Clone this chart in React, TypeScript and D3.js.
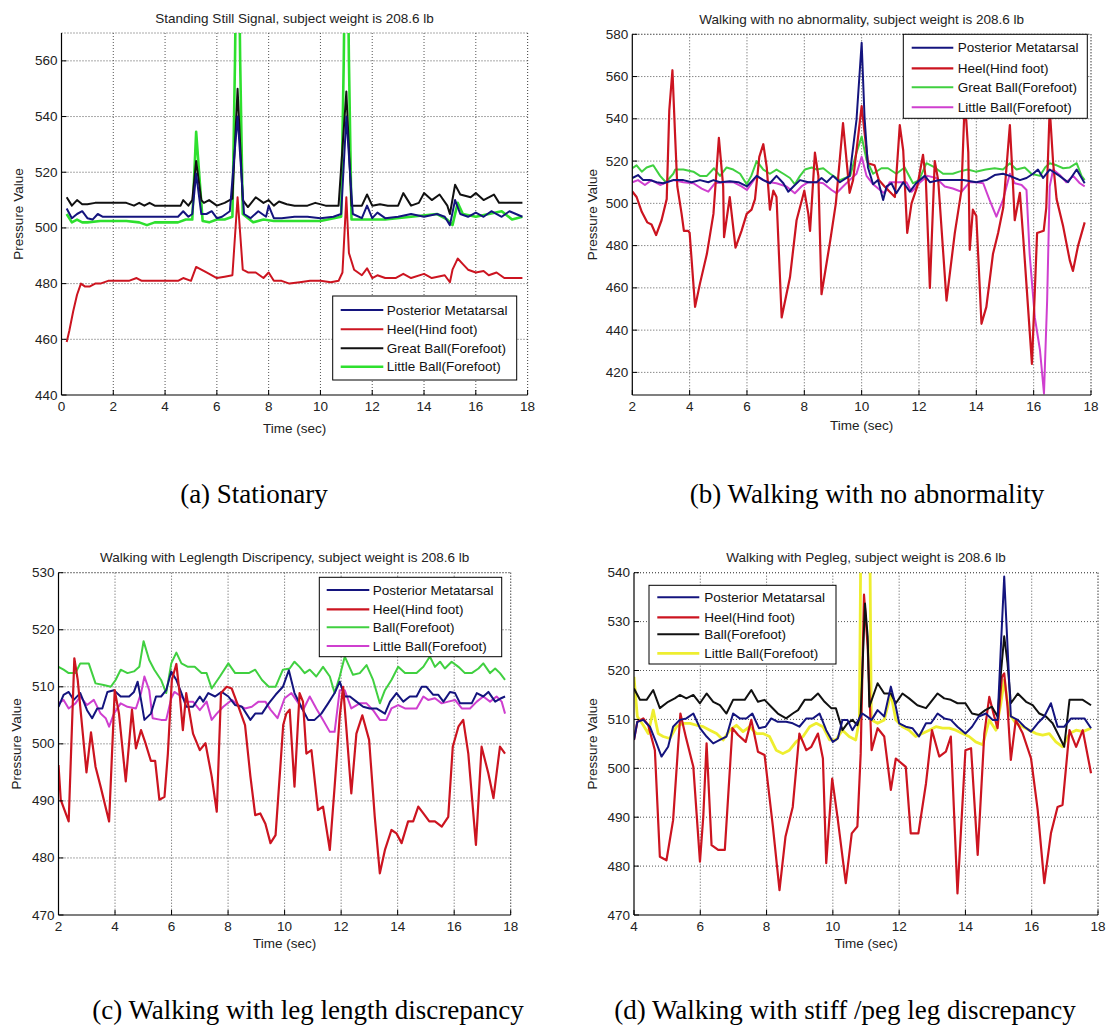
import React from 'react';
import * as d3 from 'd3';

type Pt = [number, number];

// ---------- tick labels ----------
const A_X_TICKS = [0, 2, 4, 6, 8, 10, 12, 14, 16, 18];
const A_Y_TICKS = [440, 460, 480, 500, 520, 540, 560];
const B_X_TICKS = [2, 4, 6, 8, 10, 12, 14, 16, 18];
const B_Y_TICKS = [420, 440, 460, 480, 500, 520, 540, 560, 580];
const C_X_TICKS = [2, 4, 6, 8, 10, 12, 14, 16, 18];
const C_Y_TICKS = [470, 480, 490, 500, 510, 520, 530];
const D_X_TICKS = [4, 6, 8, 10, 12, 14, 16, 18];
const D_Y_TICKS = [470, 480, 490, 500, 510, 520, 530, 540];

// ---------- (a) Standing still ----------
const A_POSTERIOR: Pt[] = [[0.2,507],[0.4,503.5],[0.6,505],[0.8,506],[1.0,503.5],[1.2,503],[1.4,505],[1.6,504],[2.0,504],[3.0,504],[4.0,504],[4.5,504],[4.7,506],[4.9,504],[5.05,505],[5.2,519.5],[5.4,505],[5.6,505],[5.8,506],[6.0,503.5],[6.2,504],[6.5,506],[6.8,540],[7.05,505],[7.3,503.5],[7.6,506],[7.9,504],[8.0,508],[8.2,503.5],[8.5,503.5],[9.0,504],[9.5,504],[10.0,503.5],[10.5,504],[10.8,505],[11.0,540],[11.25,505],[11.6,503.5],[11.8,508],[12.0,503.5],[12.2,505.5],[12.5,503.5],[13.0,504],[13.5,505],[14.0,504],[14.5,505],[14.8,504],[15.0,501],[15.2,510],[15.4,505],[15.7,504],[16.0,505.5],[16.3,504],[16.6,506],[17.0,504],[17.3,506],[17.8,504]];
const A_HEEL: Pt[] = [[0.2,459],[0.3,463],[0.45,470],[0.6,476],[0.75,480],[0.9,479],[1.1,479],[1.3,480],[1.5,480],[1.8,481],[2.2,481],[2.6,481],[2.9,482],[3.1,481],[3.6,481],[4.0,481],[4.5,481],[4.7,482],[5.0,481],[5.2,486],[5.6,484],[6.0,482],[6.3,482.5],[6.6,483],[6.8,511],[7.0,485],[7.2,484],[7.5,484],[7.8,482],[8.0,484],[8.2,481],[8.5,481],[8.8,480],[9.2,480.5],[9.6,481],[10.0,481],[10.4,480.5],[10.7,481],[10.85,484],[11.0,511],[11.1,491],[11.3,485],[11.6,483],[11.8,485.5],[12.0,482],[12.2,483],[12.5,482],[12.9,482],[13.2,483.5],[13.5,482],[14.0,483.5],[14.3,482],[14.8,483],[15.0,480.5],[15.1,485],[15.3,489],[15.5,487],[15.7,485],[16.0,484],[16.3,484.5],[16.5,483],[16.8,484],[17.1,482],[17.4,482],[17.8,482]];
const A_GREAT_BALL: Pt[] = [[0.2,511],[0.4,508],[0.6,510],[0.8,508.5],[1.0,508.5],[1.3,509],[1.6,509],[2.0,509],[2.5,509],[2.8,508],[3.0,509],[3.2,508],[3.4,509],[3.6,508],[4.0,508],[4.6,508],[4.7,510],[4.9,508],[5.05,510],[5.2,524],[5.4,510],[5.5,509],[5.7,510],[6.0,508],[6.3,509],[6.6,510.5],[6.8,550],[7.0,510],[7.2,507.5],[7.5,511],[7.8,509],[8.0,510],[8.2,508],[8.4,509.5],[8.7,508.5],[9.0,508],[9.5,508],[9.8,509],[10.2,508],[10.7,508],[11.0,549],[11.2,508],[11.6,508],[11.8,512],[12.0,508],[12.3,508.5],[12.6,508],[13.0,508],[13.2,512.5],[13.5,508],[13.8,509],[14.0,512.5],[14.3,510],[14.6,512],[14.9,508],[15.0,505],[15.2,515.5],[15.4,512],[15.8,511],[16.0,512.5],[16.3,510],[16.7,512],[16.9,509],[17.2,509],[17.8,509]];
const A_LITTLE_BALL: Pt[] = [[0.2,505],[0.4,502],[0.6,503],[0.8,502],[1.0,502],[1.5,502.5],[2.0,502.5],[2.5,502.5],[3.0,502],[3.3,501],[3.6,502],[4.0,502],[4.5,502],[4.8,503],[5.05,503],[5.2,534.5],[5.45,502.5],[5.7,502],[6.0,503],[6.3,503],[6.6,504],[6.7,560],[6.8,640],[6.9,560],[7.0,505],[7.4,502],[7.8,503],[8.2,502.5],[9.0,502.5],[10.0,502.5],[10.8,504],[10.9,560],[11.0,640],[11.1,560],[11.2,503],[11.8,503],[12.5,503],[13.5,504],[14.5,505],[14.9,503],[15.1,501],[15.3,509],[15.5,505],[16.0,504],[16.5,505],[17.0,506],[17.4,503],[17.8,504]];

// ---------- (b) Walking, no abnormality ----------
const B_POSTERIOR: Pt[] = [[2.0,512],[2.2,513.4],[2.38,511],[2.62,511],[2.85,510],[3.08,509.5],[3.43,511],[3.78,511],[4.07,510],[4.36,511],[4.65,510],[4.83,511],[5.06,510],[5.4,510.5],[5.7,510],[6.0,508],[6.34,513],[6.57,511],[6.8,509.5],[7.03,513],[7.27,509.5],[7.44,505.5],[7.62,508],[7.85,511],[8.14,510],[8.43,510],[8.6,512],[8.78,510],[9.0,513],[9.24,510],[9.58,513],[9.82,539.5],[10.0,576],[10.1,541],[10.22,517],[10.4,509],[10.57,511],[10.75,501.6],[10.87,508],[11.04,509.5],[11.21,504.8],[11.45,510],[11.68,505.5],[11.9,509.5],[12.2,513],[12.38,510],[12.73,511],[13.08,511],[13.54,511],[14.0,510],[14.35,511],[14.64,513.4],[14.93,514],[15.17,513],[15.52,511],[15.75,512],[15.98,514],[16.15,516],[16.33,512],[16.56,516],[16.9,513],[17.2,510],[17.5,516],[17.78,509.5]];
const B_HEEL: Pt[] = [[2.0,505.6],[2.15,503],[2.33,496],[2.52,491],[2.67,490],[2.83,485],[3.02,492],[3.2,502],[3.29,544],[3.4,563],[3.49,533],[3.57,508],[3.72,495],[3.8,487],[3.95,487],[4.0,486],[4.19,451],[4.36,462],[4.6,476],[4.83,495],[5.02,531],[5.17,508],[5.2,484],[5.4,503],[5.6,479],[5.81,487],[5.99,495],[6.16,497],[6.28,502],[6.43,522],[6.57,528],[6.69,517],[6.8,497],[6.92,506],[7.03,503],[7.21,446],[7.5,465],[7.73,492],[8.0,506],[8.14,495],[8.2,487],[8.37,524],[8.49,513],[8.6,457],[8.9,482],[9.1,500],[9.35,538],[9.58,505],[9.7,511],[10.0,546],[10.22,519],[10.45,518],[10.6,511],[10.8,508],[11.16,503],[11.33,537],[11.45,525],[11.59,486],[11.74,500],[11.94,508],[12.14,523],[12.24,511],[12.38,460],[12.55,520],[12.67,511],[12.96,454],[13.25,486],[13.48,506],[13.6,550],[13.72,524],[13.77,478],[13.88,497],[14.0,494],[14.18,443],[14.35,451],[14.58,476],[14.76,486],[14.94,498],[15.17,537],[15.26,514],[15.34,492],[15.52,505],[15.64,483],[15.94,424],[16.12,486],[16.35,487],[16.44,498],[16.56,545],[16.68,519],[16.8,502],[17.03,489],[17.26,473],[17.37,468],[17.55,480],[17.78,491]];
const B_GREAT_BALL: Pt[] = [[2.0,516.6],[2.15,518],[2.33,515],[2.5,517],[2.73,518],[2.97,513],[3.17,510],[3.43,514],[3.5,516],[3.78,516],[4.13,515],[4.36,513],[4.6,513],[4.85,516.6],[5.06,513],[5.29,517],[5.52,516],[5.76,514],[5.99,509],[6.15,513],[6.34,520],[6.57,516],[6.8,514],[7.03,516],[7.27,514],[7.5,512],[7.67,509],[7.85,513],[8.02,516],[8.26,517],[8.43,516],[8.66,516.6],[8.9,514],[9.13,512],[9.24,511],[9.6,513],[9.82,524],[10.0,531.6],[10.17,520.5],[10.4,514],[10.69,516.6],[10.92,516.6],[11.21,514],[11.5,517],[11.79,509.5],[12.0,511],[12.26,519],[12.55,517],[12.84,514],[13.18,514],[13.4,515],[13.7,516],[13.98,515],[14.33,516],[14.64,516.6],[14.93,516],[15.17,519],[15.4,516],[15.69,517],[15.92,514],[16.22,513],[16.4,517],[16.56,519],[16.8,518],[17.03,516.6],[17.26,517],[17.5,519],[17.67,513],[17.78,511]];
const B_LITTLE_BALL: Pt[] = [[2.0,510],[2.2,511],[2.44,508.7],[2.67,511],[2.97,508.7],[3.2,510],[3.43,511],[3.78,510],[4.13,509.5],[4.42,507],[4.65,505.5],[4.88,509.5],[5.17,510],[5.52,510],[5.81,508],[6.0,506.3],[6.34,513],[6.57,511],[6.8,510],[7.03,509.5],[7.38,508],[7.67,504.8],[7.9,508],[8.14,510],[8.43,510],[8.66,509.5],[8.95,506.3],[9.12,504.8],[9.35,508],[9.58,511],[9.82,514],[10.0,522],[10.17,513],[10.4,509],[10.64,506.3],[10.8,504.8],[10.98,510],[11.27,510],[11.56,510],[11.74,505.5],[11.85,507],[12.0,509.5],[12.3,513],[12.6,512],[12.9,508],[13.18,507],[13.48,505.5],[13.77,510],[14.0,510],[14.24,509.5],[14.46,501.6],[14.7,493.7],[14.93,501.6],[15.17,514],[15.34,509.5],[15.58,508.7],[15.75,506.3],[15.86,476],[16.04,446],[16.22,430.6],[16.36,410],[16.47,454],[16.56,508],[16.68,516],[16.91,513.4],[17.14,510],[17.38,513],[17.61,509.5],[17.78,508]];

// ---------- (c) Leg length discrepancy ----------
const C_POSTERIOR: Pt[] = [[2.0,506.5],[2.18,508.6],[2.36,509.1],[2.54,507.7],[2.77,508.9],[3.01,505.9],[3.19,504.5],[3.37,506.2],[3.55,506.2],[3.73,509.1],[3.96,509.4],[4.2,508.3],[4.5,508.3],[4.67,509.1],[4.8,510.9],[4.92,507.7],[5.04,504.2],[5.27,505.3],[5.45,508.3],[5.63,508.3],[5.81,509.4],[5.99,512.7],[6.17,511.2],[6.35,508.9],[6.52,506.5],[6.76,506.5],[7.0,508.3],[7.12,507.4],[7.3,508.9],[7.54,508.3],[7.77,509.1],[8.01,508.3],[8.25,506.8],[8.49,506.5],[8.79,504.2],[8.96,505.3],[9.2,505.3],[9.44,507.1],[9.68,508.6],[9.94,510],[10.15,512.9],[10.35,508.9],[10.59,506.5],[10.83,504.2],[11.06,504.2],[11.3,505.3],[11.54,507.1],[11.77,508.9],[11.95,510.9],[12.13,508.3],[12.31,508.3],[12.54,507.4],[12.78,506.5],[13.01,506.2],[13.25,506.2],[13.55,505.3],[13.73,507.4],[13.96,508.9],[14.2,507.4],[14.43,508.3],[14.67,508.3],[14.85,510],[15.02,510],[15.26,508.6],[15.44,508.6],[15.62,507.4],[15.85,509.1],[16.03,508.9],[16.21,507.1],[16.45,507.1],[16.62,507.1],[16.8,508.9],[17.03,508.3],[17.21,509.1],[17.45,507.4],[17.62,507.9],[17.8,508.3]];
const C_HEEL: Pt[] = [[2.0,496.3],[2.08,490.2],[2.36,486.4],[2.56,515],[2.68,511.2],[2.99,495],[3.15,502],[3.31,496],[3.49,492.5],[3.79,486.4],[3.99,509.4],[4.14,505.3],[4.38,493.4],[4.6,506],[4.74,499.2],[4.92,502.4],[5.06,500.4],[5.27,497],[5.42,497],[5.57,490.2],[5.75,490.7],[5.87,498.3],[6.01,511.2],[6.17,514],[6.29,508.6],[6.4,502.4],[6.52,508.9],[6.76,501.8],[7.0,498.9],[7.2,500.1],[7.42,494.3],[7.6,488.1],[7.75,508.9],[7.95,510],[8.13,509.7],[8.37,506.5],[8.6,503.3],[8.79,494.3],[8.96,487.5],[9.14,487.8],[9.32,486],[9.5,482.6],[9.68,484],[9.85,496],[9.95,503.3],[10.06,505.3],[10.18,506],[10.35,492.5],[10.53,508.9],[10.65,507.4],[10.77,498.3],[10.95,498.9],[11.18,488.4],[11.36,489],[11.6,481.4],[11.77,492.5],[11.95,504.8],[12.07,510],[12.19,502.4],[12.36,491.3],[12.54,501.8],[12.75,505],[12.99,500.7],[13.19,487.2],[13.37,477.3],[13.55,481.4],[13.78,484.9],[13.96,484.3],[14.14,482.6],[14.37,486.4],[14.55,486.4],[14.73,489],[14.91,487.8],[15.12,486.4],[15.32,486.4],[15.56,485.5],[15.79,487.2],[15.95,499.5],[16.15,503],[16.32,504.2],[16.5,498.3],[16.77,482.3],[16.97,499.5],[17.21,494.8],[17.39,490.5],[17.62,499.5],[17.8,498.3]];
const C_BALL: Pt[] = [[2.0,513.5],[2.18,513],[2.36,512.4],[2.6,512.4],[2.77,514.1],[3.07,514.1],[3.31,510.6],[3.6,510.3],[3.85,510],[4.02,511.2],[4.2,513],[4.44,512.4],[4.67,512.7],[4.86,513.5],[5.01,518],[5.21,514.7],[5.39,513],[5.63,511.2],[5.81,508.9],[5.99,514.1],[6.17,516],[6.35,514.1],[6.58,513.5],[6.82,513.5],[7.06,512.4],[7.24,512.4],[7.42,509.7],[7.71,511.8],[8.01,514.1],[8.25,512.4],[8.49,512.4],[8.73,512.4],[8.96,513],[9.2,511.2],[9.44,510],[9.68,510],[9.94,513],[10.18,513.2],[10.35,514.4],[10.53,513.5],[10.71,512.4],[10.89,513],[11.12,511.8],[11.36,513.5],[11.6,511.8],[11.77,508.9],[11.95,511.8],[12.13,515.3],[12.42,512.1],[12.66,512.4],[12.9,513.8],[13.13,511.2],[13.37,507.1],[13.55,509.4],[13.78,511.2],[14.02,513.5],[14.26,512.4],[14.67,512.4],[14.91,513.5],[15.14,515.3],[15.32,513.5],[15.5,514.4],[15.67,513.2],[15.91,514.4],[16.15,513.5],[16.38,512.4],[16.62,512.4],[16.86,513.2],[17.03,514.1],[17.27,512.4],[17.45,513.2],[17.62,512.4],[17.8,511.2]];
const C_LITTLE_BALL: Pt[] = [[2.0,507.1],[2.18,507.7],[2.36,506.2],[2.6,507.1],[2.77,508.3],[3.01,506.8],[3.25,507.7],[3.49,505.3],[3.67,504.5],[3.79,503],[3.96,505.3],[4.2,507.1],[4.44,506.5],[4.74,506.2],[4.92,508.9],[5.04,511.8],[5.21,509.4],[5.33,504.5],[5.63,504.2],[5.81,504.2],[5.99,508],[6.1,509.1],[6.35,508.3],[6.52,507.4],[6.76,507.4],[7.0,505.9],[7.24,507.4],[7.42,504.2],[7.6,505.3],[7.83,506.5],[8.13,507.7],[8.37,506.8],[8.6,506.2],[8.84,506.5],[9.08,507.4],[9.32,507.4],[9.5,506],[9.75,504.5],[10.0,508],[10.24,508.9],[10.41,507.7],[10.65,505.9],[10.89,508.3],[11.12,506.2],[11.36,504.2],[11.6,502.1],[11.77,502.1],[11.95,509.4],[12.13,509.4],[12.36,506.2],[12.66,507.1],[12.9,507.1],[13.13,505.9],[13.37,504.2],[13.6,504.2],[13.78,506.2],[14.02,506.8],[14.26,506.2],[14.67,506.2],[14.91,508.3],[15.08,507.7],[15.32,508],[15.56,507.1],[15.79,507.4],[16.03,507.7],[16.27,506.2],[16.56,506.2],[16.8,507.4],[17.03,508.3],[17.27,507.4],[17.5,508.3],[17.68,507.4],[17.8,505.3]];

// ---------- (d) Peg leg ----------
const D_POSTERIOR: Pt[] = [[4.0,505.8],[4.1,509.5],[4.28,509.9],[4.48,508.5],[4.68,505.1],[4.83,502.4],[5.03,504.4],[5.18,508.5],[5.38,509.9],[5.58,510.2],[5.79,511.2],[5.99,508.2],[6.19,506.5],[6.39,505.1],[6.59,505.8],[6.79,506.5],[6.99,511.2],[7.19,510.2],[7.39,510.2],[7.57,511.2],[7.77,508.2],[7.97,508.5],[8.14,510.2],[8.34,509.5],[8.59,509.5],[8.79,509.2],[8.99,508.5],[9.2,510.2],[9.4,510.2],[9.6,511.2],[9.8,507.8],[10.0,505.4],[10.15,506.1],[10.29,509.9],[10.44,509.9],[10.59,507.8],[10.74,509.5],[10.89,511.2],[11.17,509.9],[11.35,511.9],[11.55,510.6],[11.75,516.7],[11.9,512.6],[12.0,509.2],[12.2,508.5],[12.4,508.2],[12.6,506.5],[12.81,509.2],[12.96,509.2],[13.16,511.2],[13.36,510.2],[13.56,509.9],[13.76,508.5],[14.0,507.1],[14.2,508.5],[14.4,510.6],[14.62,511.2],[14.82,509.9],[14.97,509.9],[15.07,524.9],[15.17,539.2],[15.27,524.9],[15.37,510.6],[15.58,509.9],[15.78,508.5],[15.98,507.5],[16.18,509.2],[16.38,510.6],[16.58,513.3],[16.78,508.5],[16.98,508.5],[17.19,510.2],[17.39,510.2],[17.59,510.2],[17.79,508.2]];
const D_HEEL: Pt[] = [[4.0,505.8],[4.1,509.5],[4.28,510.2],[4.43,508.8],[4.63,503.7],[4.78,481.9],[4.98,481.2],[5.18,489.4],[5.33,504.4],[5.4,511.2],[5.56,506.5],[5.79,500.3],[5.99,480.9],[6.09,490.1],[6.19,505.1],[6.34,484.3],[6.54,483.3],[6.74,483.3],[6.97,508.2],[7.14,506.8],[7.37,505.4],[7.54,509.9],[7.74,503.4],[7.94,502.7],[8.19,488.1],[8.39,475.1],[8.57,486],[8.79,492.1],[8.99,507.1],[9.2,503.7],[9.35,504.4],[9.55,507.1],[9.7,502],[9.8,480.6],[9.98,497.9],[10.14,490],[10.39,476.5],[10.57,486.7],[10.74,488.1],[10.84,503],[10.94,535.5],[11.05,525],[11.17,503.7],[11.35,508.2],[11.55,506.5],[11.75,495.6],[11.9,502],[12.2,500.3],[12.35,486.7],[12.58,486.7],[12.81,496.9],[12.99,507.8],[13.21,502.4],[13.41,503.4],[13.56,506.5],[13.76,474.4],[14.0,503.7],[14.17,504.1],[14.37,482.3],[14.57,507.1],[14.72,514.6],[14.87,510.6],[14.97,508.2],[15.1,518.7],[15.17,519.4],[15.27,512.6],[15.37,501.7],[15.52,509.9],[15.73,507.1],[15.98,502],[16.18,491.5],[16.38,476.5],[16.58,486.7],[16.78,492.1],[16.93,492.5],[17.14,507.8],[17.34,504.4],[17.54,507.8],[17.79,499]];
const D_BALL: Pt[] = [[4.0,516.3],[4.18,514],[4.38,514],[4.58,516],[4.78,512.3],[5.03,513.6],[5.23,514.3],[5.38,515],[5.58,514.3],[5.79,515],[5.99,513.3],[6.19,515.3],[6.39,513.6],[6.59,512.9],[6.79,511.2],[6.99,514],[7.19,514],[7.34,514],[7.54,516],[7.74,513.6],[7.94,514],[8.14,512.6],[8.34,511.2],[8.59,510.2],[8.79,511.2],[8.95,511.9],[9.15,514],[9.35,514],[9.55,515.3],[9.75,513.6],[9.95,512.3],[10.09,512.3],[10.29,507.8],[10.44,509.2],[10.59,509.9],[10.74,508.8],[10.84,511.2],[10.97,533.7],[11.05,527],[11.1,512.6],[11.35,517.4],[11.55,515.3],[11.75,515.3],[11.9,513.3],[12.1,515.3],[12.3,514.3],[12.55,512.9],[12.81,512.3],[12.96,513.6],[13.16,515.3],[13.36,514.3],[13.56,514],[13.76,513.3],[14.0,513.3],[14.2,511.2],[14.4,510.9],[14.6,511.9],[14.8,512.6],[14.97,510.6],[15.07,519.4],[15.17,527],[15.27,521.5],[15.37,513.3],[15.58,515.3],[15.83,513.6],[16.03,512.9],[16.23,511.2],[16.43,510.6],[16.63,509.2],[16.83,506.5],[16.98,504.4],[17.14,514],[17.34,514],[17.54,514],[17.79,512.9]];
const D_LITTLE_BALL: Pt[] = [[4.0,518.7],[4.1,510.6],[4.28,508.8],[4.43,507.1],[4.58,511.9],[4.73,507.1],[4.88,506.5],[5.08,506.1],[5.28,508.5],[5.48,509.2],[5.69,509.2],[5.89,508.8],[6.09,508.5],[6.29,507.8],[6.49,507.1],[6.69,505.8],[6.89,507.8],[7.09,508.8],[7.29,507.5],[7.49,508.5],[7.69,507.1],[7.89,507.1],[8.09,506.5],[8.29,503.7],[8.49,503],[8.69,503.7],[8.89,505.4],[9.1,506.5],[9.3,508.5],[9.5,509.2],[9.7,508.5],[9.9,505.8],[10.09,505.8],[10.29,507.8],[10.49,506.5],[10.69,505.8],[10.8,509.9],[10.86,560],[10.92,600],[11.04,600],[11.1,560],[11.16,509.9],[11.35,509.2],[11.55,509.9],[11.75,515.3],[11.9,509.9],[12.1,508.5],[12.3,507.8],[12.5,506.5],[12.7,507.1],[12.91,507.8],[13.11,508.5],[13.31,508.2],[13.51,508.2],[13.71,507.8],[13.91,507.1],[14.11,506.5],[14.31,505.4],[14.52,504.8],[14.72,509.9],[14.92,507.8],[15.07,513.3],[15.17,518],[15.32,511.2],[15.52,509.2],[15.73,508.5],[15.93,507.8],[16.13,507.1],[16.33,506.8],[16.53,507.1],[16.73,505.4],[16.93,504.4],[17.14,507.1],[17.34,507.8],[17.54,507.5],[17.79,508.2]];

// ---------- colours ----------
const NAVY = '#14147e';
const RED = '#cc1420';
const BLACK = '#111111';
const LIME = '#2ee02e';
const GREEN = '#40d040';
const MAGENTA = '#cf3fcf';
const YELLOW = '#eeee30';

type Series = { name: string; data: Pt[]; color: string; width: number };
type PanelCfg = {
  id: string; title: string; caption: string;
  left: number; right: number; top: number; bottom: number;
  xDomain: [number, number]; yDomain: [number, number];
  xTicks: number[]; yTicks: number[];
  drawOrder: Series[]; legendOrder: Series[];
  legend: { x: number; y: number; w: number; h: number; lx1: number; lx2: number; tx: number; rows: number[] };
  yLabelX: number; xLabelOff: number;
  capX: number; capY: number;
};

const mk = (name: string, data: Pt[], color: string, width = 2): Series => ({ name, data, color, width });

const aP = mk('Posterior Metatarsal', A_POSTERIOR, NAVY);
const aH = mk('Heel(Hind foot)', A_HEEL, RED);
const aG = mk('Great Ball(Forefoot)', A_GREAT_BALL, BLACK);
const aL = mk('Little Ball(Forefoot)', A_LITTLE_BALL, LIME, 2.6);
const bP = mk('Posterior Metatarsal', B_POSTERIOR, NAVY);
const bH = mk('Heel(Hind foot)', B_HEEL, RED, 2.2);
const bG = mk('Great Ball(Forefoot)', B_GREAT_BALL, GREEN);
const bL = mk('Little Ball(Forefoot)', B_LITTLE_BALL, MAGENTA);
const cP = mk('Posterior Metatarsal', C_POSTERIOR, NAVY);
const cH = mk('Heel(Hind foot)', C_HEEL, RED, 2.2);
const cG = mk('Ball(Forefoot)', C_BALL, GREEN);
const cL = mk('Little Ball(Forefoot)', C_LITTLE_BALL, MAGENTA);
const dP = mk('Posterior Metatarsal', D_POSTERIOR, NAVY);
const dH = mk('Heel(Hind foot)', D_HEEL, RED, 2.2);
const dG = mk('Ball(Forefoot)', D_BALL, BLACK);
const dL = mk('Little Ball(Forefoot)', D_LITTLE_BALL, YELLOW, 2.8);

const PANELS: PanelCfg[] = [
  {
    id: 'a', title: 'Standing Still Signal, subject weight is 208.6 lb', caption: '(a) Stationary',
    left: 61.5, right: 527.6, top: 33, bottom: 395, xDomain: [0, 18], yDomain: [440, 570],
    xTicks: A_X_TICKS, yTicks: A_Y_TICKS,
    drawOrder: [aL, aH, aG, aP], legendOrder: [aP, aH, aG, aL],
    legend: { x: 332.7, y: 296, w: 184, h: 84, lx1: 340.7, lx2: 383.3, tx: 386.7, rows: [310, 329.3, 348.3, 366.7] },
    yLabelX: 18.3, xLabelOff: 33, capX: 254, capY: 503,
  },
  {
    id: 'b', title: 'Walking with no abnormality, subject weight is 208.6 lb', caption: '(b) Walking with no abnormality',
    left: 632.3, right: 1091, top: 34.3, bottom: 395, xDomain: [2, 18], yDomain: [409.3, 580],
    xTicks: B_X_TICKS, yTicks: B_Y_TICKS,
    drawOrder: [bG, bL, bH, bP], legendOrder: [bP, bH, bG, bL],
    legend: { x: 903.3, y: 34.3, w: 184, h: 84, lx1: 911.7, lx2: 953.3, tx: 957.7, rows: [47.7, 68.3, 87.3, 107.3] },
    yLabelX: 592.3, xLabelOff: 30, capX: 867, capY: 503,
  },
  {
    id: 'c', title: 'Walking with Leglength Discripency, subject weight is 208.6 lb', caption: '(c) Walking with leg length discrepancy',
    left: 58.5, right: 510.7, top: 572.7, bottom: 915, xDomain: [2, 18], yDomain: [470, 530],
    xTicks: C_X_TICKS, yTicks: C_Y_TICKS,
    drawOrder: [cG, cL, cP, cH], legendOrder: [cP, cH, cG, cL],
    legend: { x: 319.3, y: 577.3, w: 182.4, h: 79.4, lx1: 326.7, lx2: 369.3, tx: 372.7, rows: [590, 609.3, 627.3, 646] },
    yLabelX: 16.7, xLabelOff: 28, capX: 308, capY: 1019,
  },
  {
    id: 'd', title: 'Walking with Pegleg, subject weight is 208.6 lb', caption: '(d) Walking with stiff /peg leg discrepancy',
    left: 634, right: 1098, top: 572.7, bottom: 915, xDomain: [4, 18], yDomain: [470, 540],
    xTicks: D_X_TICKS, yTicks: D_Y_TICKS,
    drawOrder: [dL, dH, dG, dP], legendOrder: [dP, dH, dG, dL],
    legend: { x: 649, y: 585.3, w: 187, h: 78.7, lx1: 657.3, lx2: 699.3, tx: 704.3, rows: [597.3, 617.3, 634.3, 653.3] },
    yLabelX: 592.3, xLabelOff: 28, capX: 845, capY: 1019,
  },
];

const SANS = '"Liberation Sans", Arial, Helvetica, sans-serif';
const SERIF = '"Liberation Serif", "Times New Roman", serif';
const GRID = '#555';

function Panel({ cfg }: { cfg: PanelCfg }) {
  const x = d3.scaleLinear().domain(cfg.xDomain).range([cfg.left, cfg.right]);
  const y = d3.scaleLinear().domain(cfg.yDomain).range([cfg.bottom, cfg.top]);
  const line = d3.line<Pt>().x((d) => x(d[0])).y((d) => y(d[1]));
  const clipId = `clip-${cfg.id}`;
  const { left, right, top, bottom } = cfg;
  const lg = cfg.legend;
  return (
    <g>
      <defs>
        <clipPath id={clipId}>
          <rect x={left} y={top} width={right - left} height={bottom - top} />
        </clipPath>
      </defs>
      {cfg.xTicks.filter((t) => Math.abs(x(t) - left) > 1).map((t) => (
        <line key={'gx' + t} x1={x(t)} x2={x(t)} y1={top} y2={bottom} stroke={GRID} strokeWidth={1} strokeDasharray="1,2" />
      ))}
      {cfg.yTicks.filter((t) => Math.abs(y(t) - bottom) > 1).map((t) => (
        <line key={'gy' + t} x1={left} x2={right} y1={y(t)} y2={y(t)} stroke={GRID} strokeWidth={1} strokeDasharray="1,2" />
      ))}
      <line x1={left} x2={right} y1={top} y2={top} stroke={GRID} strokeDasharray="1,2" />
      <line x1={right} x2={right} y1={top} y2={bottom} stroke={GRID} strokeDasharray="1,2" />
      <g clipPath={`url(#${clipId})`}>
        {cfg.drawOrder.map((s, i) => (
          <path key={i} d={line(s.data) || ''} fill="none" stroke={s.color} strokeWidth={s.width} strokeLinejoin="round" />
        ))}
      </g>
      <line x1={left} x2={left} y1={top} y2={bottom} stroke="#000" strokeWidth={1.2} />
      <line x1={left} x2={right} y1={bottom} y2={bottom} stroke="#000" strokeWidth={1.2} />
      {cfg.xTicks.map((t) => (
        <g key={'tx' + t}>
          <line x1={x(t)} x2={x(t)} y1={bottom} y2={bottom - 5} stroke="#000" />
          <text x={x(t)} y={bottom + 11.5} fontSize={13.5} fontFamily={SANS} textAnchor="middle" dominantBaseline="central" fill="#222">{t}</text>
        </g>
      ))}
      {cfg.yTicks.map((t) => (
        <g key={'ty' + t}>
          <line x1={left} x2={left + 5} y1={y(t)} y2={y(t)} stroke="#000" />
          <text x={left - 4} y={y(t)} fontSize={13.5} fontFamily={SANS} textAnchor="end" dominantBaseline="central" fill="#222">{t}</text>
        </g>
      ))}
      <text x={(left + right) / 2} y={top - 15} fontSize={13.5} fontFamily={SANS} textAnchor="middle" dominantBaseline="central" fill="#222">{cfg.title}</text>
      <text x={(left + right) / 2} y={bottom + cfg.xLabelOff} fontSize={13.5} fontFamily={SANS} textAnchor="middle" dominantBaseline="central" fill="#222">Time (sec)</text>
      <text transform={`translate(${cfg.yLabelX},${(top + bottom) / 2}) rotate(-90)`} fontSize={13.5} fontFamily={SANS} textAnchor="middle" dominantBaseline="central" fill="#222">Pressure Value</text>
      <rect x={lg.x} y={lg.y} width={lg.w} height={lg.h} fill="#fff" stroke="#000" strokeWidth={1} />
      {cfg.legendOrder.map((s, i) => (
        <g key={'lg' + i}>
          <line x1={lg.lx1} x2={lg.lx2} y1={lg.rows[i]} y2={lg.rows[i]} stroke={s.color} strokeWidth={s.width} />
          <text x={lg.tx} y={lg.rows[i]} fontSize={13.5} fontFamily={SANS} dominantBaseline="central" fill="#111">{s.name}</text>
        </g>
      ))}
      <text x={cfg.capX} y={cfg.capY} fontSize={27} fontFamily={SERIF} textAnchor="middle" fill="#000">{cfg.caption}</text>
    </g>
  );
}

export default function App() {
  return (
    <div style={{ position: 'absolute', left: 0, top: 0 }}>
      <svg width={1107} height={1027} viewBox="0 0 1107 1027" style={{ display: 'block', background: '#fff' }}>
        <rect x={0} y={0} width={1107} height={1027} fill="#fff" />
        {PANELS.map((p) => <Panel key={p.id} cfg={p} />)}
      </svg>
    </div>
  );
}
